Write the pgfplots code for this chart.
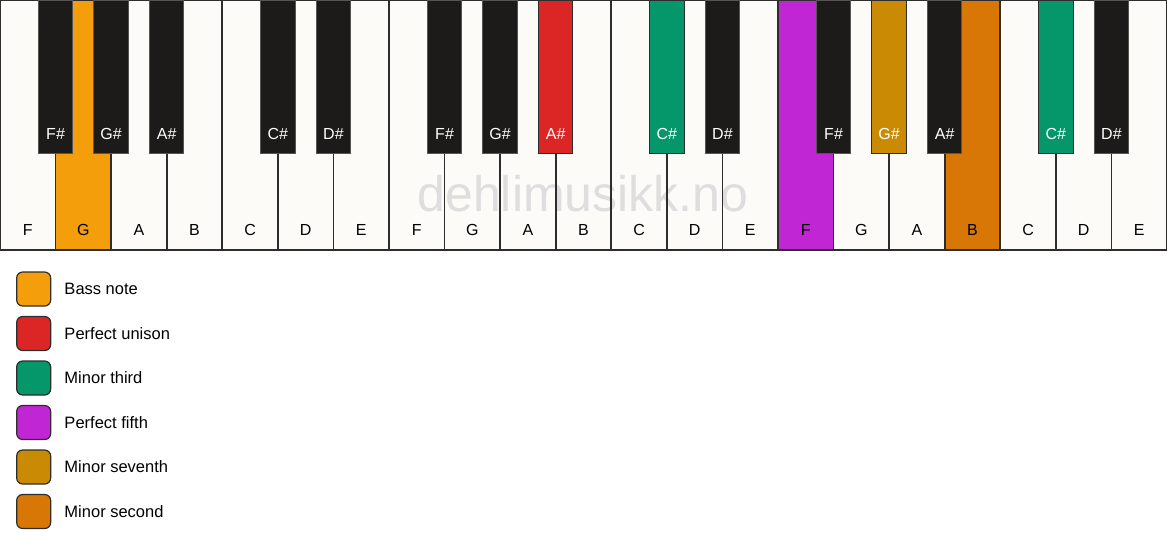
\documentclass[border=0pt]{standalone}
\usepackage{pgfplots}
\pgfplotsset{compat=1.18}
\usepackage{fontspec}
\setmainfont{Liberation Sans}

\definecolor{keywhite}{RGB}{252,251,248}
\definecolor{keyblack}{RGB}{28,27,26}
\definecolor{edge}{RGB}{45,45,45}
\definecolor{bedge}{RGB}{85,85,85}
\definecolor{wm}{RGB}{222,222,222}
\definecolor{bass}{RGB}{245,158,11}
\definecolor{unison}{RGB}{220,38,38}
\definecolor{mthird}{RGB}{5,150,105}
\definecolor{pfifth}{RGB}{192,38,211}
\definecolor{mseventh}{RGB}{202,138,4}
\definecolor{msecond}{RGB}{217,119,6}

% rounded square for the legend (34px, radius 6px)
\pgfdeclareplotmark{rsq}{%
  \pgfpathmoveto{\pgfpoint{-11pt}{-17pt}}%
  \pgfpathlineto{\pgfpoint{11pt}{-17pt}}%
  \pgfpatharc{270}{360}{6pt}%
  \pgfpathlineto{\pgfpoint{17pt}{11pt}}%
  \pgfpatharc{0}{90}{6pt}%
  \pgfpathlineto{\pgfpoint{-11pt}{17pt}}%
  \pgfpatharc{90}{180}{6pt}%
  \pgfpathlineto{\pgfpoint{-17pt}{-11pt}}%
  \pgfpatharc{180}{270}{6pt}%
  \pgfpathclose
  \pgfusepathqfillstroke}

\pgfplotsset{
  kb/.style={at={(0,0)}, anchor=south west, scale only axis,
    width=1167pt, height=550pt,
    xmin=0, xmax=21, ymin=0, ymax=550, y dir=reverse,
    hide axis, clip=false},
}
\tikzset{
  wlab/.style={font=\fontsize{16}{19}\selectfont, text=black},
  blab/.style={font=\fontsize{16}{19}\selectfont, text=white},
  leg/.style={font=\fontsize{16.5}{19}\selectfont, anchor=west, inner sep=0pt},
}

% white keys: interval edges (key units), key length in px
\pgfplotstableread{
x y
0 250
1 250
2 250
3 250
4 250
5 250
6 250
7 250
8 250
9 250
10 250
11 250
12 250
13 250
14 250
15 250
16 250
17 250
18 250
19 250
20 250
21 250
}\whitekeys

\begin{document}
\begin{tikzpicture}
% background: white keys and the watermark
\begin{axis}[kb]
  \addplot[ybar interval, fill=keywhite, draw=none] table {\whitekeys};
  \node[anchor=base, text=wm, font=\fontsize{50}{55}\selectfont]
    at (axis cs:10.49,211) {dehlimusikk.no};
\end{axis}

\begin{axis}[kb]
  % highlighted white keys
  \addplot[ybar interval, fill=bass, draw=none] coordinates {(1,250) (2,250)};
  \addplot[ybar interval, fill=pfifth, draw=none] coordinates {(14,250) (15,250)};
  \addplot[ybar interval, fill=msecond, draw=none] coordinates {(17,250) (18,250)};
  % outlines of the white keys
  \addplot[ybar interval, fill=none, draw=edge, line width=1.6pt] table {\whitekeys};

  % black keys
  \addplot[ybar, bar width=0.62, bar shift=0pt, fill=keyblack, draw=bedge, line width=1pt]
    coordinates {(1,153) (2,153) (3,153) (5,153) (6,153) (8,153) (9,153)
                 (13,153) (15,153) (17,153) (20,153)};
  \addplot[ybar, bar width=0.62, bar shift=0pt, fill=unison, draw=edge, line width=1pt]
    coordinates {(10,153)};
  \addplot[ybar, bar width=0.62, bar shift=0pt, fill=mthird, draw=edge, line width=1pt]
    coordinates {(12,153) (19,153)};
  \addplot[ybar, bar width=0.62, bar shift=0pt, fill=mseventh, draw=edge, line width=1pt]
    coordinates {(16,153)};

  % key names
  \foreach \n [count=\i from 0] in {F,G,A,B,C,D,E,F,G,A,B,C,D,E,F,G,A,B,C,D,E} {
    \edef\tmp{\noexpand\node[wlab] at (axis cs:\i+0.5,230) {\n};}\tmp
  }
  \foreach \p/\n in {1/F,2/G,3/A,5/C,6/D,8/F,9/G,10/A,12/C,13/D,15/F,16/G,17/A,19/C,20/D} {
    \edef\tmp{\noexpand\node[blab] at (axis cs:\p,133.5) {\n\noexpand\#};}\tmp
  }

  % legend
  \addplot[only marks, mark=rsq, mark options={fill=bass, draw=edge, line width=1.2pt}] coordinates {(0.606,289)};
  \addplot[only marks, mark=rsq, mark options={fill=unison, draw=edge, line width=1.2pt}] coordinates {(0.606,333.5)};
  \addplot[only marks, mark=rsq, mark options={fill=mthird, draw=edge, line width=1.2pt}] coordinates {(0.606,378)};
  \addplot[only marks, mark=rsq, mark options={fill=pfifth, draw=edge, line width=1.2pt}] coordinates {(0.606,422.5)};
  \addplot[only marks, mark=rsq, mark options={fill=mseventh, draw=edge, line width=1.2pt}] coordinates {(0.606,467)};
  \addplot[only marks, mark=rsq, mark options={fill=msecond, draw=edge, line width=1.2pt}] coordinates {(0.606,511.5)};
  \node[leg] at (axis cs:1.157,289) {Bass note};
  \node[leg] at (axis cs:1.157,333.5) {Perfect unison};
  \node[leg] at (axis cs:1.157,378) {Minor third};
  \node[leg] at (axis cs:1.157,422.5) {Perfect fifth};
  \node[leg] at (axis cs:1.157,467) {Minor seventh};
  \node[leg] at (axis cs:1.157,511.5) {Minor second};
\end{axis}
\pgfresetboundingbox
\useasboundingbox (0,0) rectangle (1167pt,550pt);
\end{tikzpicture}
\end{document}
